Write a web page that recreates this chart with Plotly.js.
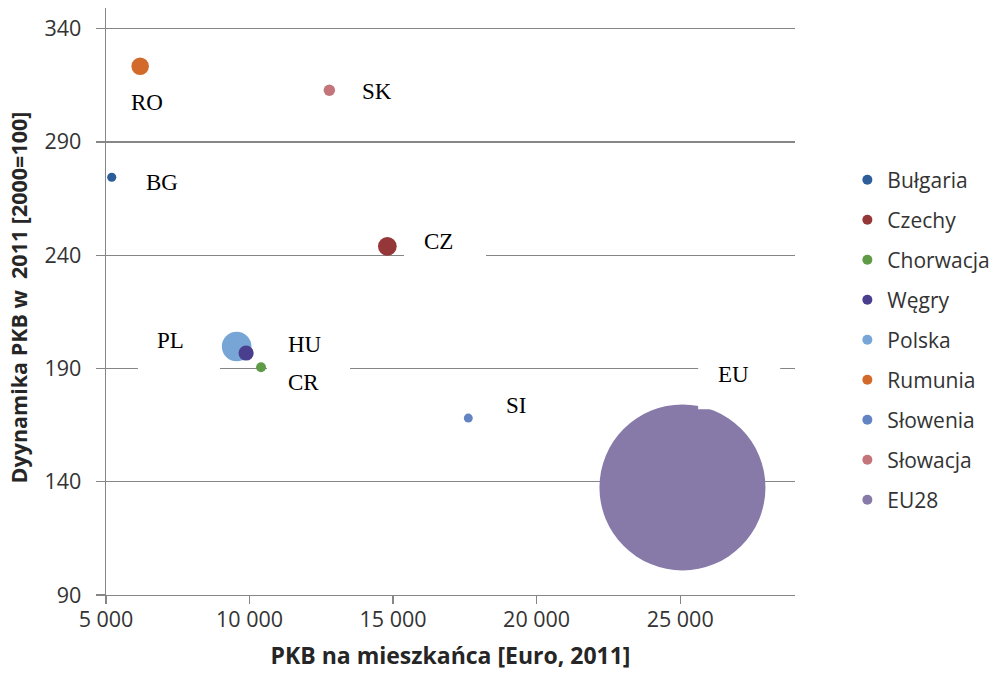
<!DOCTYPE html>
<html>
<head>
<meta charset="utf-8">
<script src="https://cdn.plot.ly/plotly-3.0.1.min.js"></script>
<style>
  html, body { margin: 0; padding: 0; background: #ffffff; }
  #chart { width: 993px; height: 673px; }
</style>
</head>
<body>
<div id="chart"></div>
<script>
// ---- data ----
const countries = ["Bułgaria", "Czechy", "Chorwacja", "Węgry", "Polska", "Rumunia", "Słowenia", "Słowacja", "EU28"];
const codes     = ["BG", "CZ", "CR", "HU", "PL", "RO", "SI", "SK", "EU"];
const gdpPerCapita = [5200, 14800, 10400, 9880, 9550, 6190, 17620, 12780, 25080];   // PKB na mieszkańca [Euro, 2011]
const gdpDynamics  = [274.4, 243.9, 190.5, 196.8, 199.7, 323.4, 168.1, 312.8, 137.5]; // Dynamika PKB 2011 [2000=100]
const bubbleSize   = [38, 160, 45, 105, 400, 140, 37, 60, 12600];                   // bubble size value
const colors = ["#2d5e99", "#953738", "#5f9b46", "#4a3e8e", "#77a5d6", "#d26a2c", "#6384c2", "#c3757a", "#8779a8"];
const xTitle = "PKB na mieszkańca [Euro, 2011]";
const yTitle = "Dyynamika PKB w\u00a0 2011 [2000=100]";

// ---- styling / layout config ----
const maxDiameterPx = 166;
const sizeref = 2 * Math.max(...bubbleSize) / (maxDiameterPx * maxDiameterPx);

// label text offsets in px relative to the bubble centre (dy positive = down)
const labelOffset = {
  BG: [50, 5.6], RO: [6.7, 36.3], SK: [47.4, 1], CZ: [51.4, -5], PL: [-65.7, -6],
  HU: [58.5, -8.3], CR: [42.3, 15.6], SI: [47.5, -12.6], EU: [51, -112.7]
};
// white label boxes that hide the gridline behind some labels (px relative to bubble centre, y up)
const labelBox = {
  CZ: [16.7, 98.7, -18.3, 21.7],
  PL: [-98.7, -16.7, -31.3, 26.7],
  CR: [6, 89, -8.3, 7.7],
  EU: [15.7, 97.7, 78.2, 142.7]
};

const traces = [];
// draw largest bubbles first so smaller ones sit on top
const order = countries.map((c, i) => i).sort((a, b) => bubbleSize[b] - bubbleSize[a]);
order.forEach(i => {
  traces.push({
    type: "scatter", mode: "markers",
    x: [gdpPerCapita[i]], y: [gdpDynamics[i]],
    name: countries[i], showlegend: false, hoverinfo: "name+x+y",
    marker: {
      size: [bubbleSize[i]], sizemode: "area", sizeref: sizeref,
      color: colors[i], opacity: 1, line: {width: 0}
    },
    cliponaxis: false
  });
});
// legend entries (constant marker size), in legend order
countries.forEach((c, i) => {
  traces.push({
    type: "scatter", mode: "markers",
    x: [null], y: [null], name: c, legendgroup: "g" + i,
    showlegend: true, hoverinfo: "skip",
    marker: {size: 10, color: colors[i], opacity: 1, line: {width: 0}}
  });
});

const annotations = codes.map((code, i) => {
  const o = labelOffset[code];
  return {
    x: gdpPerCapita[i], y: gdpDynamics[i], xref: "x", yref: "y",
    text: code, showarrow: false,
    xanchor: "center", yanchor: "middle",
    xshift: o[0], yshift: -o[1],
    font: {family: "Liberation Serif, Times New Roman, serif", size: 23, color: "#000000"}
  };
});
// y-axis title (placed as a rotated annotation for exact positioning)
annotations.push({
  xref: "paper", yref: "paper", x: -0.1277, y: 0.507,
  xanchor: "center", yanchor: "middle", textangle: -90,
  text: yTitle, showarrow: false,
  font: {family: "Open Sans, sans-serif", size: 21.5, color: "#262626", weight: "bold"}
});

const shapes = [];
codes.forEach((code, i) => {
  const b = labelBox[code];
  if (!b) return;
  shapes.push({
    type: "rect", layer: "above",
    xref: "x", yref: "y", xsizemode: "pixel", ysizemode: "pixel",
    xanchor: gdpPerCapita[i], yanchor: gdpDynamics[i],
    x0: b[0], x1: b[1], y0: b[2], y1: b[3],
    fillcolor: "#ffffff", line: {width: 0}
  });
});

const axisColor = "#868686";
const tickFont = {family: "Open Sans, sans-serif", size: 21.5, color: "#333333"};

const layout = {
  width: 993, height: 673,
  paper_bgcolor: "#ffffff", plot_bgcolor: "#ffffff",
  margin: {l: 106, r: 198, t: 8, b: 78, autoexpand: false},
  separators: ", ",
  showlegend: true,
  xaxis: {
    range: [5000, 29000], tick0: 5000, dtick: 5000,
    tickformat: ",d", separatethousands: true,
    showgrid: false, zeroline: false,
    showline: true, linecolor: axisColor, linewidth: 1.3,
    ticks: "outside", ticklen: 8, tickcolor: axisColor, tickwidth: 1.3,
    tickfont: tickFont, ticklabelstandoff: -3,
    title: {text: xTitle, standoff: 15,
            font: {family: "Open Sans, sans-serif", size: 23, color: "#262626", weight: "bold"}}
  },
  yaxis: {
    range: [90, 349.1], tick0: 90, dtick: 50,
    showgrid: true, gridcolor: axisColor, gridwidth: 1.3,
    zeroline: false,
    showline: true, linecolor: axisColor, linewidth: 1.3,
    ticks: "outside", ticklen: 9, tickcolor: axisColor, tickwidth: 1.3,
    tickfont: tickFont, ticklabelstandoff: 10
  },
  legend: {
    x: 1.076, xanchor: "left", y: 0.7416, yanchor: "top",
    traceorder: "grouped", tracegroupgap: 9.7,
    font: {family: "Open Sans, sans-serif", size: 21, color: "#333333"},
    bgcolor: "rgba(0,0,0,0)", borderwidth: 0
  },
  shapes: shapes,
  annotations: annotations
};

Plotly.newPlot("chart", traces, layout, {staticPlot: true, displayModeBar: false});
</script>
</body>
</html>
